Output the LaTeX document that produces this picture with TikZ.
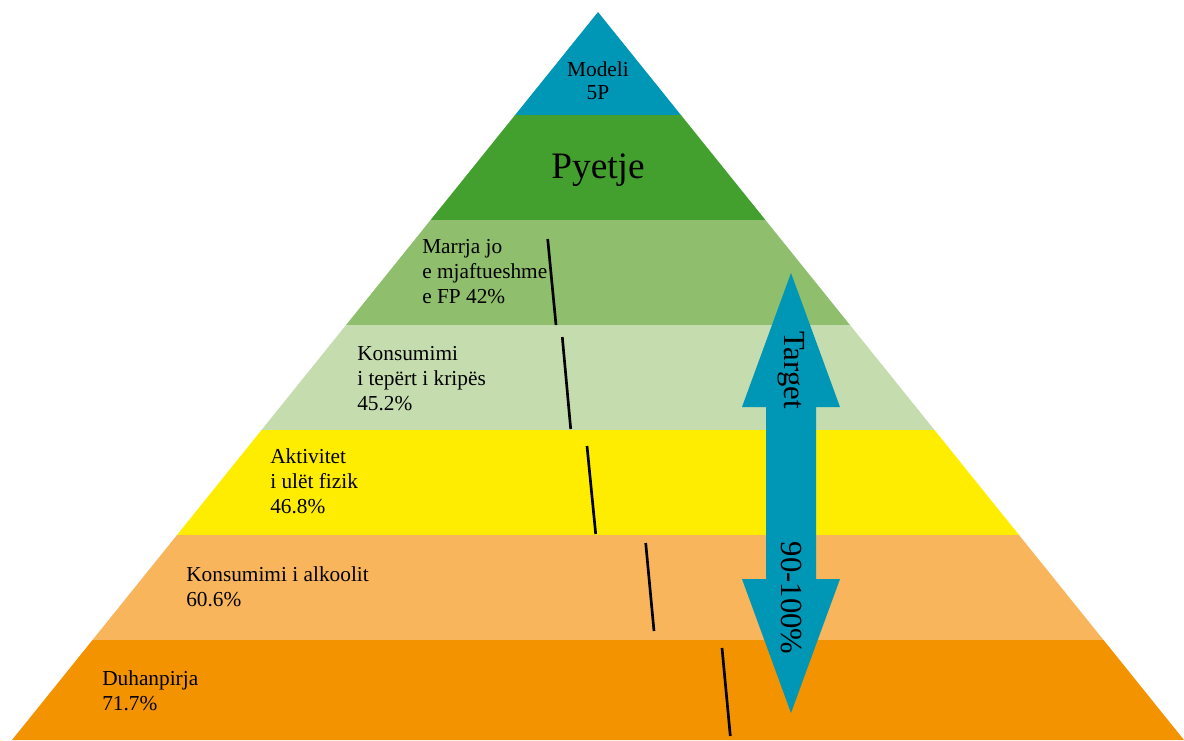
\documentclass[tikz,border=0pt]{standalone}
\usepackage{fontspec}
\setmainfont{Liberation Serif}
\usetikzlibrary{positioning}
\definecolor{tipblue}{RGB}{0,150,182}
\definecolor{darkgreen}{RGB}{67,160,46}
\definecolor{midgreen}{RGB}{143,190,109}
\definecolor{palegreen}{RGB}{196,220,174}
\definecolor{riskyellow}{RGB}{255,237,0}
\definecolor{peach}{RGB}{248,181,92}
\definecolor{deeporange}{RGB}{243,147,0}

\begin{document}
\begin{tikzpicture}[x=0.75pt, y=-0.75pt,
                    lbl/.style={anchor=base west, align=left, inner sep=0pt,
                                font=\fontsize{16}{18.6}\selectfont},
                    tick/.style={line width=2pt, black},
                    arrowlbl/.style={rotate=-90, inner sep=0pt,
                                     font=\fontsize{23}{26}\selectfont},
                   ]
\useasboundingbox (0,0) rectangle (1184,740);

% pyramid tiers
\coordinate (apex) at (598,12);
\fill[tipblue] (apex) -- (515.1,115) -- (680.9,115) -- cycle;
\foreach \ya/\yb/\col in {115/220/darkgreen, 220/325/midgreen, 325/430/palegreen,
                          430/535/riskyellow, 535/640/peach, 640/740/deeporange}{
  \pgfmathsetmacro{\wa}{0.80495*(\ya-12)}
  \pgfmathsetmacro{\wb}{0.80495*(\yb-12)}
  \fill[\col] (598-\wa,\ya) -- (598+\wa,\ya) -- (598+\wb,\yb) -- (598-\wb,\yb) -- cycle;
}

\node[align=center, inner sep=0pt, font=\fontsize{16}{17.5}\selectfont] (model) at (598,81) {Modeli\\5P};
\node[inner sep=0pt, font=\fontsize{28}{32}\selectfont] (question) at (598,170) {Pyetje};

% risk factors (anchored at last baseline)
\node[lbl] (fruit) at (422,303) {Marrja jo\\e mjaftueshme\\e FP 42\%};
\node[lbl] (salt) at (357,410) {Konsumimi\\i tepërt i kripës\\45.2\%};
\node[lbl] (activity) at (270,513) {Aktivitet\\i ulët fizik\\46.8\%};
\node[lbl] (alcohol) at (186,606) {Konsumimi i alkoolit\\60.6\%};
\node[lbl] (smoking) at (102,710) {Duhanpirja\\71.7\%};

% marks
\draw[tick] (547.7,239) -- (556,325);
\draw[tick] (562.3,337) -- (570.7,429);
\draw[tick] (587,446) -- (595.7,534);
\draw[tick] (645.7,543) -- (654,631);
\draw[tick] (722,648) -- (730.3,736);

% target arrow
\fill[tipblue] (791,273) -- (840,407) -- (816,407) -- (816,579) -- (840,579) -- (791,713)
               -- (742,579) -- (766,579) -- (766,407) -- (742,407) -- cycle;
\node[arrowlbl] (target) at (791,370) {Target};
\node[arrowlbl] (range) at (791,598) {90-100\%};

\end{tikzpicture}
\end{document}
